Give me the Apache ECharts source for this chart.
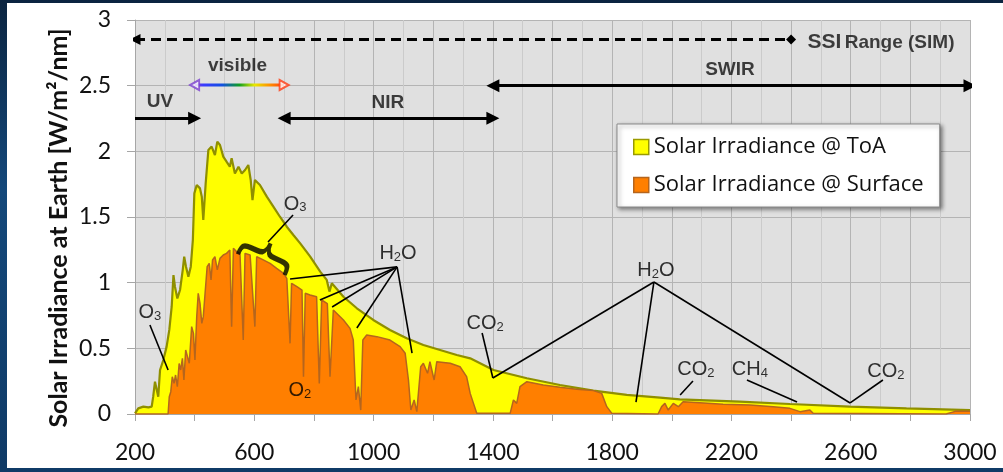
<!DOCTYPE html>
<html>
<head>
<meta charset="utf-8">
<script src="https://cdn.jsdelivr.net/npm/echarts@6/dist/echarts.min.js"></script>
<style>
html,body{margin:0;padding:0;width:1003px;height:472px;overflow:hidden;
background:linear-gradient(180deg,#0b2440 0%,#14487a 40%,#0f3a66 100%);}
#chart{position:absolute;left:7px;top:3px;width:996px;height:465px;background:#fff;}
</style>
</head>
<body>
<div id="chart"></div>
<script>
// ---- data ----
const toaNm = [200,211,228,245,256,261,267,273,278,284,295,306,315,323,329,334,342,351,360,365,371,379,387,394,399,407,418,424,429,437,446,457,468,476,485,496,507,518,524,535,547,558,569,580,588,594,602,619,642,664,686,709,731,754,787,821,843,852,860,899,944,999,1055,1111,1167,1223,1279,1324,1402,1514,1625,1737,1849,1961,2027,2228,2396,2597,2787,3000];
const toaVal = [0.005,0.043,0.056,0.050,0.056,0.132,0.246,0.233,0.132,0.335,0.411,0.513,0.640,0.817,1.058,0.969,0.880,0.944,1.096,1.198,1.122,1.046,1.122,1.325,1.680,1.744,1.718,1.655,1.477,1.756,2.010,2.036,1.972,2.074,2.048,1.960,1.921,1.883,1.947,1.832,1.883,1.832,1.858,1.896,1.782,1.629,1.782,1.744,1.655,1.579,1.502,1.426,1.363,1.299,1.200,1.084,1.021,0.932,0.995,0.893,0.805,0.716,0.640,0.576,0.525,0.487,0.449,0.424,0.335,0.272,0.221,0.178,0.145,0.125,0.111,0.094,0.076,0.056,0.043,0.030];
const sfcNm = [200,311,315,320,325,331,336,342,348,353,359,364,370,376,382,390,396,401,407,412,418,424,429,435,442,449,455,460,468,476,485,496,507,518,524,530,541,552,563,569,586,602,608,630,653,675,698,709,720,725,743,760,765,771,787,809,818,826,845,854,865,899,921,932,941,949,957,964,977,1011,1055,1089,1106,1117,1125,1136,1145,1158,1167,1181,1189,1203,1212,1257,1290,1312,1324,1335,1346,1458,1469,1480,1491,1514,1569,1625,1681,1737,1765,1782,1799,1954,1966,1977,1988,2005,2022,2038,2094,2172,2262,2340,2396,2430,2463,2474,2920,2950,3000];
const sfcVal = [0,0,0.132,0.170,0.284,0.233,0.297,0.208,0.385,0.335,0.424,0.259,0.487,0.437,0.386,0.665,0.614,0.411,0.741,0.919,0.843,0.690,0.741,0.919,1.122,1.147,1.020,1.173,1.198,1.097,1.185,1.211,1.223,1.249,0.665,1.261,1.236,1.223,0.563,1.223,1.211,0.665,1.198,1.173,1.147,1.109,1.071,1.033,0.538,0.995,0.969,0.944,0.284,0.919,0.906,0.893,0.233,0.868,0.840,0.284,0.792,0.716,0.652,0.563,0.107,0.208,0.030,0.563,0.601,0.589,0.563,0.513,0.462,0.259,0.030,0.107,0.018,0.360,0.386,0.310,0.398,0.259,0.398,0.386,0.360,0.284,0.157,0.081,0.005,0.005,0.107,0.081,0.208,0.246,0.221,0.203,0.188,0.178,0.157,0.056,0.005,0,0.056,0.081,0.030,0.081,0.056,0.094,0.086,0.074,0.068,0.056,0.043,0.018,0.030,0.005,0,0.02,0.02];
const seriesNames = ['Solar Irradiance @ ToA','Solar Irradiance @ Surface'];
const yAxisTitle = 'Solar Irradiance at Earth [W/m²/nm]';

// band ranges (nm) and their levels
const ssiRange = [200, 2400, 2.852];
const uvRange = [200, 400, 2.252];
const visRange = [400, 700, 2.505];
const nirRange = [700, 1400, 2.252];
const swirRange = [1400, 3000, 2.50];

// annotation labels: [nm, value, text]
const bandLabels = [
  [284, 2.376, 'UV'],
  [544, 2.65, 'visible'],
  [1048, 2.37, 'NIR'],
  [2195, 2.62, 'SWIR']
];
const gasLabels = [
  [250, 0.777, 'O', '3'],
  [737, 1.60, 'O', '3'],
  [753, 0.183, 'O', '2'],
  [1082, 1.225, 'H', '2', 'O'],
  [1374, 0.693, 'CO', '2'],
  [1947, 1.096, 'H', '2', 'O'],
  [2081, 0.343, 'CO', '2'],
  [2262, 0.343, 'CH', '4'],
  [2718, 0.327, 'CO', '2']
];
// annotation leader lines in data space
const leaderLines = [
  [[250,0.678],[311,0.335]],
  [[730,1.515],[646,1.31]],
  [[1079,1.12],[720,1.028]],
  [[1079,1.12],[820,0.868]],
  [[1079,1.12],[861,0.815]],
  [[1079,1.12],[944,0.655]],
  [[1079,1.12],[1129,0.464]],
  [[1364,0.617],[1400,0.274]],
  [[1940,1.005],[1400,0.274]],
  [[1940,1.005],[1880,0.091]],
  [[1940,1.005],[2598,0.084]],
  [[2071,0.251],[2028,0.145]],
  [[2252,0.259],[2420,0.091]],
  [[2708,0.259],[2598,0.084]]
];
const bracePos = [646, 1.21];

const zip = (a, b) => a.map((v, i) => [v, b[i]]);

const chart = echarts.init(document.getElementById('chart'), null, {renderer: 'canvas'});
const labelFont = 'Lato, "Open Sans", sans-serif';
const legendFont = '"Open Sans", Lato, sans-serif';
const arial = '"Liberation Sans", Arial, sans-serif';

const gasData = gasLabels.map(g => {
  let f = '{m|' + g[2] + '}{s|' + g[3] + '}' + (g[4] ? '{m|' + g[4] + '}' : '');
  return {value: [g[0], g[1]], label: {formatter: f}};
});

const option = {
  animation: false,
  backgroundColor: '#ffffff',
  grid: {left: 128, right: 33, top: 17, bottom: 54, show: true, backgroundColor: '#e0e0e0', borderWidth: 0},
  legend: {
    left: 610, top: 121, orient: 'vertical',
    backgroundColor: '#ffffff', borderColor: '#8a8a8a', borderWidth: 1,
    shadowBlur: 4, shadowOffsetX: 2, shadowOffsetY: 2, shadowColor: 'rgba(0,0,0,0.45)',
    padding: [12, 16, 11, 16], itemGap: 16, itemWidth: 15, itemHeight: 15, itemTextGap: 6, icon: 'rect',
    textStyle: {fontFamily: legendFont, fontSize: 22, color: '#111'},
    data: [
      {name: seriesNames[0], itemStyle: {color: '#ffff00', borderColor: '#9a9a00', borderWidth: 1.5}},
      {name: seriesNames[1], itemStyle: {color: '#ff7f00', borderColor: '#b5651d', borderWidth: 1.5}}
    ]
  },
  xAxis: {
    type: 'value', min: 200, max: 3000, interval: 200,
    axisLine: {show: true, lineStyle: {color: '#a6a6a6', width: 1}},
    axisTick: {show: true, length: 7, lineStyle: {color: '#a6a6a6'}},
    axisLabel: {margin: 27, fontFamily: labelFont, fontSize: 23, color: '#111',
      formatter: v => ((v - 200) % 400 === 0 ? String(v) : '')},
    splitLine: {show: true, lineStyle: {color: '#b4b4b4', width: 1}},
    minorTick: {show: false, splitNumber: 2},
    minorSplitLine: {show: true, lineStyle: {color: '#cbcbcb', width: 1}}
  },
  yAxis: {
    type: 'value', min: 0, max: 3, interval: 0.5,
    axisLine: {show: true, lineStyle: {color: '#a6a6a6', width: 1}},
    axisTick: {show: true, length: 8, lineStyle: {color: '#a6a6a6'}},
    axisLabel: {margin: 24, fontFamily: labelFont, fontSize: 23, color: '#111'},
    splitLine: {show: true, lineStyle: {color: '#b4b4b4', width: 1}}
  },
  graphic: [{
    type: 'text', x: 52, y: 225, rotation: Math.PI / 2,
    style: {text: yAxisTitle, fontFamily: labelFont, fontWeight: 'bold', fontSize: 25,
      fill: '#111', align: 'center', verticalAlign: 'middle'}
  }],
  series: [
    {
      name: seriesNames[0], type: 'line', data: zip(toaNm, toaVal), showSymbol: false, symbol: 'none',
      lineStyle: {color: '#8f8f00', width: 2.2}, itemStyle: {color: '#ffff00'},
      areaStyle: {color: '#ffff00', opacity: 1}, z: 2
    },
    {
      name: seriesNames[1], type: 'line', data: zip(sfcNm, sfcVal), showSymbol: false, symbol: 'none',
      lineStyle: {color: '#b5651d', width: 1.5}, itemStyle: {color: '#ff7f00'},
      areaStyle: {color: '#ff7f00', opacity: 1}, z: 3
    },
    // SSI dashed range
    {
      type: 'lines', coordinateSystem: 'cartesian2d', z: 5,
      symbol: ['triangle', 'diamond'], symbolSize: [11, 10],
      lineStyle: {color: '#000', width: 3, type: [10, 6], opacity: 1},
      data: [{coords: [[ssiRange[0], ssiRange[2]], [ssiRange[1], ssiRange[2]]]}]
    },
    // single-ended arrows
    {
      type: 'lines', coordinateSystem: 'cartesian2d', z: 5,
      symbol: ['none', 'triangle'], symbolSize: 13,
      lineStyle: {color: '#000', width: 3, opacity: 1},
      data: [{coords: [[uvRange[0], uvRange[2]], [uvRange[1], uvRange[2]]]}]
    },
    // double arrows
    {
      type: 'lines', coordinateSystem: 'cartesian2d', z: 5,
      symbol: ['triangle', 'triangle'], symbolSize: 13,
      lineStyle: {color: '#000', width: 3, opacity: 1},
      data: [
        {coords: [[nirRange[0], nirRange[2]], [nirRange[1], nirRange[2]]]},
        {coords: [[swirRange[0], swirRange[2]], [swirRange[1], swirRange[2]]]}
      ]
    },
    // visible rainbow bar
    {
      type: 'line', z: 5, showSymbol: false, symbol: 'none', silent: true,
      data: [[visRange[0], visRange[2]], [visRange[1], visRange[2]]],
      lineStyle: {width: 3, color: new echarts.graphic.LinearGradient(0, 0, 1, 0, [
        {offset: 0, color: '#8a3fd0'}, {offset: 0.12, color: '#3a3aff'}, {offset: 0.32, color: '#1050e0'},
        {offset: 0.5, color: '#10a020'}, {offset: 0.66, color: '#e8e800'}, {offset: 0.82, color: '#ff9000'},
        {offset: 1, color: '#ff3010'}])}
    },
    {
      type: 'scatter', z: 6, silent: true, symbol: 'triangle', symbolSize: [10, 9],
      data: [
        {value: [visRange[0], visRange[2]], symbolRotate: 90, itemStyle: {color: '#ffffff', borderColor: '#7a3fd0', borderWidth: 2}},
        {value: [visRange[1], visRange[2]], symbolRotate: -90, itemStyle: {color: '#ffffff', borderColor: '#ff3a10', borderWidth: 2}}
      ]
    },
    // leader lines
    {
      type: 'lines', coordinateSystem: 'cartesian2d', z: 5, symbol: ['none', 'none'],
      lineStyle: {color: '#000', width: 1.6, opacity: 1},
      data: leaderLines.map(c => ({coords: c}))
    },
    // band labels
    {
      type: 'scatter', z: 7, silent: true, symbolSize: 1, itemStyle: {color: 'rgba(0,0,0,0)'},
      label: {show: true, position: 'inside', fontFamily: arial, fontWeight: 'bold', fontSize: 19, color: '#111',
        formatter: p => p.data.name},
      data: bandLabels.map(b => ({value: [b[0], b[1]], name: b[2]}))
    },
    {
      type: 'scatter', z: 7, silent: true, symbolSize: 1, itemStyle: {color: 'rgba(0,0,0,0)'},
      label: {show: true, position: 'right', distance: 4, color: '#111',
        formatter: '{a|SSI} {b|Range (SIM)}',
        rich: {a: {fontFamily: arial, fontWeight: 'bold', fontSize: 21, color: '#111'},
               b: {fontFamily: arial, fontWeight: 'bold', fontSize: 19, color: '#111'}}},
      data: [[2440, 2.83]]
    },
    // gas labels
    {
      type: 'scatter', z: 7, silent: true, symbolSize: 1, itemStyle: {color: 'rgba(0,0,0,0)'},
      label: {show: true, position: 'inside', color: '#000',
        rich: {m: {fontFamily: arial, fontSize: 20, color: '#000', lineHeight: 21, verticalAlign: 'bottom'},
               s: {fontFamily: arial, fontSize: 13, color: '#000', lineHeight: 15, verticalAlign: 'bottom'}}},
      data: gasData
    },
    // brace
    {
      type: 'scatter', z: 7, silent: true, symbolSize: 1, itemStyle: {color: 'rgba(0,0,0,0)'},
      label: {show: true, position: 'inside', rotate: 66, formatter: '}', fontFamily: '"DejaVu Sans", sans-serif',
        fontSize: 60, color: '#000'},
      data: [bracePos]
    }
  ]
};
chart.setOption(option);
</script>
</body>
</html>
